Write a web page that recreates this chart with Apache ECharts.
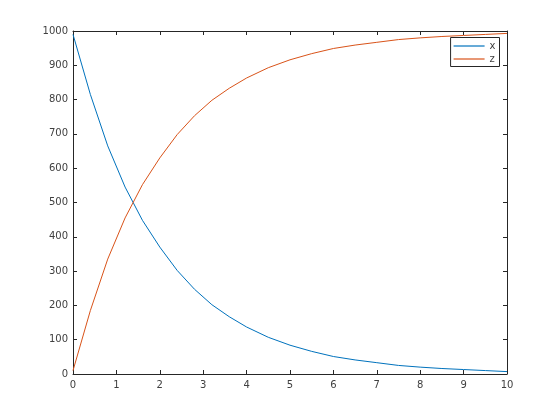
<!DOCTYPE html>
<html>
<head>
<meta charset="utf-8">
<script src="https://cdn.jsdelivr.net/npm/echarts@6/dist/echarts.min.js"></script>
<style>html,body{margin:0;padding:0;background:#fff;}#c{width:560px;height:420px;}</style>
</head>
<body>
<div id="c"></div>
<script>
const tValues = [0,0.4,0.8,1.2,1.6,2.0,2.4,2.8,3.2,3.6,4.0,4.5,5.0,5.5,6.0,6.5,7.0,7.5,8.0,8.5,9.0,9.5,10];
const xValues = [990,815,665,545,448,370,302,247,202,167,137,107,84,66,51,41,33,25,20,16,13,10,7];
const zValues = [10,185,335,455,552,630,698,753,798,833,863,893,916,934,949,959,967,975,980,984,987,990,993];
const seriesNames = ['x','z'];
const xTicks = [0,1,2,3,4,5,6,7,8,9,10];
const yTicks = [0,100,200,300,400,500,600,700,800,900,1000];

const axisColor = '#262626';
const textColor = '#404040';
const font = 'DejaVu Sans';
const chart = echarts.init(document.getElementById('c'), null, {renderer:'canvas'});
const baseAxis = {
  axisLine:{show:true,onZero:false,lineStyle:{color:axisColor,width:1}},
  axisTick:{show:true,inside:true,length:4,lineStyle:{color:axisColor}},
  splitLine:{show:false}
};
chart.setOption({
  animation:false,
  backgroundColor:'#fff',
  grid:{left:73,right:53,top:31,bottom:46,containLabel:false},
  legend:{
    data:seriesNames.map(n=>({name:n,icon:'rect'})),
    orient:'vertical', right:60.5, top:37.5,
    itemWidth:31, itemHeight:1.2, itemGap:0,
    padding:[2,4,1,3],
    borderColor:axisColor, borderWidth:1, borderRadius:0, backgroundColor:'#fff',
    textStyle:{fontFamily:font,fontSize:10,color:textColor,lineHeight:13},
    selectedMode:false
  },
  xAxis:[
    Object.assign({type:'value',min:xTicks[0],max:xTicks[xTicks.length-1],interval:1,position:'bottom',
      axisLabel:{fontFamily:font,fontSize:10,color:textColor,margin:6,formatter:v=>String(v)}},baseAxis),
    Object.assign({type:'value',min:xTicks[0],max:xTicks[xTicks.length-1],interval:1,position:'top',
      axisLabel:{show:false}},baseAxis)
  ],
  yAxis:[
    Object.assign({type:'value',min:yTicks[0],max:yTicks[yTicks.length-1],interval:100,position:'left',
      axisLabel:{fontFamily:font,fontSize:10,color:textColor,margin:5,formatter:v=>String(v)}},baseAxis),
    Object.assign({type:'value',min:yTicks[0],max:yTicks[yTicks.length-1],interval:100,position:'right',
      axisLabel:{show:false}},baseAxis)
  ],
  series:[
    {name:seriesNames[0],type:'line',symbol:'none',data:tValues.map((t,i)=>[t,xValues[i]]),
     lineStyle:{color:'#0072BD',width:1},itemStyle:{color:'#0072BD'}},
    {name:seriesNames[1],type:'line',symbol:'none',data:tValues.map((t,i)=>[t,zValues[i]]),
     lineStyle:{color:'#D95319',width:1},itemStyle:{color:'#D95319'}}
  ]
});
</script>
</body>
</html>
